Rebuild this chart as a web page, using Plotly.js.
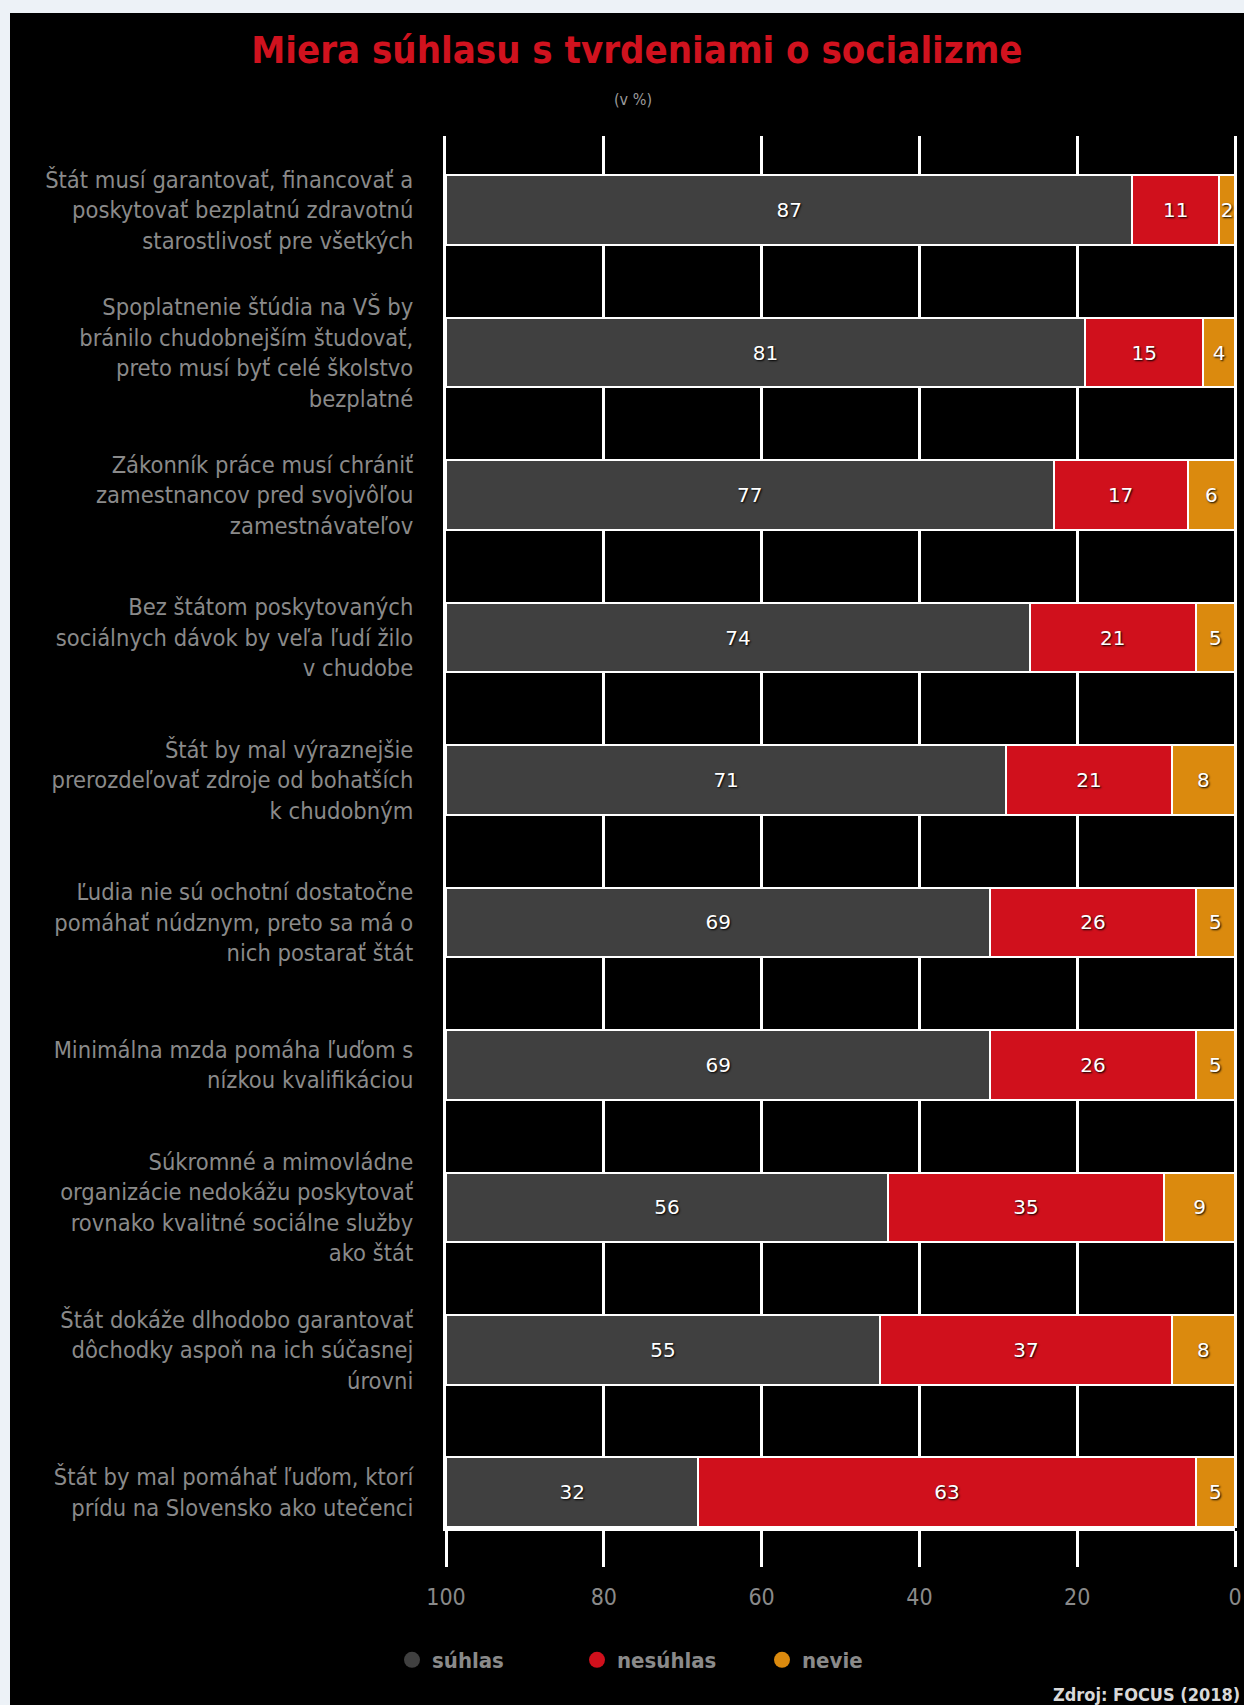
<!DOCTYPE html>
<html>
<head>
<meta charset="utf-8">
<script src="https://cdn.plot.ly/plotly-3.0.1.min.js"></script>
<style>
  html, body { margin: 0; padding: 0; background: #edf2f7; }
  #chart { position: absolute; left: 10px; top: 13px; width: 1234px; height: 1692px; }
</style>
</head>
<body>
<div id="chart"></div>
<script>
const categories = [
  "Štát musí garantovať, financovať a<br>poskytovať bezplatnú zdravotnú<br>starostlivosť pre všetkých",
  "Spoplatnenie štúdia na VŠ by<br>bránilo chudobnejším študovať,<br>preto musí byť celé školstvo<br>bezplatné",
  "Zákonník práce musí chrániť<br>zamestnancov pred svojvôľou<br>zamestnávateľov",
  "Bez štátom poskytovaných<br>sociálnych dávok by veľa ľudí žilo<br>v chudobe",
  "Štát by mal výraznejšie<br>prerozdeľovať zdroje od bohatších<br>k chudobným",
  "Ľudia nie sú ochotní dostatočne<br>pomáhať núdznym, preto sa má o<br>nich postarať štát",
  "Minimálna mzda pomáha ľuďom s<br>nízkou kvalifikáciou",
  "Súkromné a mimovládne<br>organizácie nedokážu poskytovať<br>rovnako kvalitné sociálne služby<br>ako štát",
  "Štát dokáže dlhodobo garantovať<br>dôchodky aspoň na ich súčasnej<br>úrovni",
  "Štát by mal pomáhať ľuďom, ktorí<br>prídu na Slovensko ako utečenci"
];
const suhlas   = [87, 81, 77, 74, 71, 69, 69, 56, 55, 32];
const nesuhlas = [11, 15, 17, 21, 21, 26, 26, 35, 37, 63];
const nevie    = [2, 4, 6, 5, 8, 5, 5, 9, 8, 5];
const xTicks   = [100, 80, 60, 40, 20, 0];
const seriesNames = ["súhlas", "nesúhlas", "nevie"];
const titleText = "Miera súhlasu s tvrdeniami o socializme";
const subtitleText = "(v %)";
const sourceText = "Zdroj: FOCUS (2018)";

const colors = { "súhlas": "#404040", "nesúhlas": "#d0101c", "nevie": "#db8a0e" };
const condensed = "DejaVu Sans Condensed, DejaVu Sans";
const barFont = { family: "DejaVu Sans", size: 20, color: "#ffffff", shadow: "1px 1px 2px #000000" };

// plot area geometry inside the chart div (px)
const PL = 436, PR = 1225, PT = 123, PB = 1515;
const px2paperX = x => (x - PL) / (PR - PL);
const px2paperY = y => (PB - y) / (PB - PT);

function barTrace(name, values) {
  return {
    type: "bar",
    orientation: "h",
    name: name,
    x: values,
    y: categories,
    text: values.map(String),
    textposition: "inside",
    insidetextanchor: "middle",
    textangle: 0,
    constraintext: "none",
    textfont: barFont,
    marker: { color: colors[name], line: { color: "#ffffff", width: 2 } },
    showlegend: false,
    hoverinfo: "x+name"
  };
}

const data = [
  barTrace("nevie", nevie),
  barTrace("nesúhlas", nesuhlas),
  barTrace("súhlas", suhlas)
].concat(seriesNames.map(n => ({
  type: "scatter",
  mode: "markers",
  name: n,
  x: [null],
  y: [null],
  marker: { color: colors[n], size: 22, symbol: "circle" },
  showlegend: true
})));

const layout = {
  width: 1234,
  height: 1692,
  paper_bgcolor: "#000000",
  plot_bgcolor: "#000000",
  margin: { l: PL, r: 1234 - PR, t: PT, b: 1692 - PB },
  barmode: "stack",
  bargap: 0.51,
  title: {
    text: titleText,
    font: { family: condensed, size: 38, color: "#d0121e", weight: "bold" },
    x: 0.508, xref: "container", xanchor: "center",
    y: 1 - 37 / 1692, yref: "container", yanchor: "middle"
  },
  annotations: [
    {
      text: subtitleText, xref: "paper", yref: "paper",
      x: px2paperX(623), y: px2paperY(87), xanchor: "center", yanchor: "middle",
      showarrow: false, font: { family: condensed, size: 16, color: "#9a9a9a" }
    },
    {
      text: sourceText, xref: "paper", yref: "paper",
      x: px2paperX(1232), y: px2paperY(1694), xanchor: "right", yanchor: "bottom",
      showarrow: false, font: { family: condensed, size: 18, color: "#d8d8d8", weight: "bold" }
    }
  ],
  xaxis: {
    range: [100, 0],
    tickmode: "array",
    tickvals: xTicks,
    ticktext: xTicks.map(String),
    showgrid: true,
    gridcolor: "#ffffff",
    gridwidth: 3,
    zeroline: true,
    zerolinecolor: "#ffffff",
    zerolinewidth: 3,
    showline: true,
    linecolor: "#ffffff",
    linewidth: 3,
    ticks: "outside",
    ticklen: 36,
    tickwidth: 3,
    tickcolor: "#ffffff",
    ticklabelstandoff: 10,
    tickfont: { family: condensed, size: 23, color: "#8a8a8a" },
    fixedrange: true
  },
  yaxis: {
    type: "category",
    categoryorder: "array",
    categoryarray: categories,
    range: [9.25, -0.52],
    showgrid: false,
    zeroline: false,
    showline: true,
    linecolor: "#ffffff",
    linewidth: 3,
    ticks: "",
    ticklabelstandoff: 25,
    tickfont: { family: condensed, size: 23.5, color: "#8a8a8a" },
    fixedrange: true
  },
  legend: {
    orientation: "h",
    traceorder: "normal",
    xref: "container", yref: "container",
    x: 382 / 1234, xanchor: "left",
    y: 1 - 1647 / 1692, yanchor: "middle",
    entrywidth: 140,
    font: { family: condensed, size: 22, color: "#8a8a8a", weight: "bold" },
    bgcolor: "rgba(0,0,0,0)"
  }
};

Plotly.newPlot("chart", data, layout, { displayModeBar: false, staticPlot: true });
</script>
</body>
</html>
